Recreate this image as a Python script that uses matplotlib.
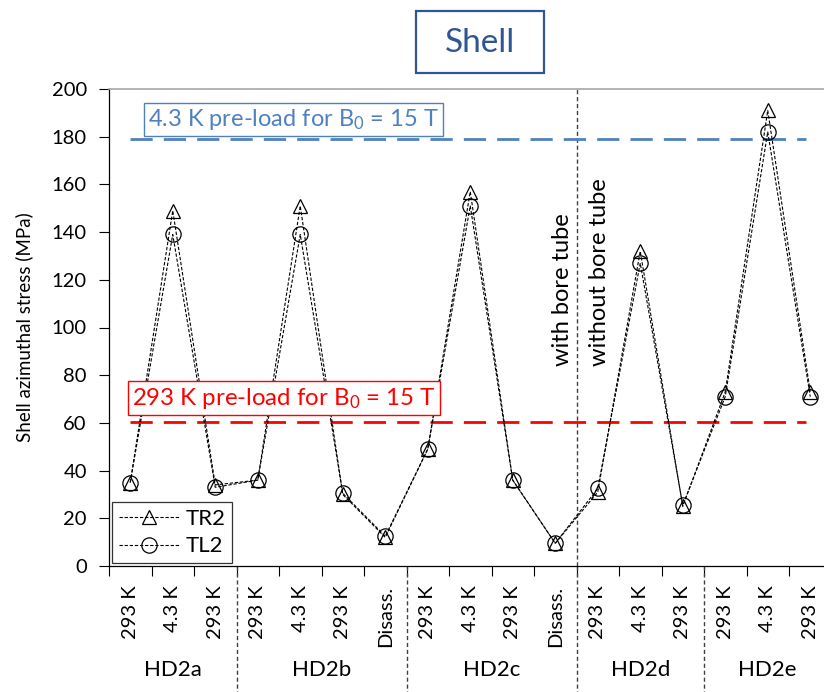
import matplotlib
matplotlib.use("Agg")
import matplotlib.pyplot as plt
from matplotlib.patches import Rectangle
from matplotlib.lines import Line2D

plt.rcParams['font.family'] = ['Lato', 'DejaVu Sans']
plt.rcParams['mathtext.fontset'] = 'custom'
plt.rcParams['mathtext.rm'] = 'Lato'
plt.rcParams['mathtext.it'] = 'Lato:italic'

# Measurement steps and the campaign each belongs to
step_labels = ["293 K", "4.3 K", "293 K",
               "293 K", "4.3 K", "293 K", "Disass.",
               "293 K", "4.3 K", "293 K", "Disass.",
               "293 K", "4.3 K", "293 K",
               "293 K", "4.3 K", "293 K"]
groups = ["HD2a", "HD2b", "HD2c", "HD2d", "HD2e"]
group_sizes = [3, 4, 4, 3, 3]

# Shell azimuthal stress (MPa) from the two gauges
tr2 = [35, 149, 34, 36, 151, 30, 12, 49, 157, 36, 9.5, 31, 132, 25, 73, 191, 73]
tl2 = [35, 139, 33, 36, 139, 30.5, 12.5, 49, 151, 36, 9.5, 32.5, 127, 25.5, 71, 182, 71]

# Pre-load targets for B0 = 15 T
preload_cold = 179
preload_warm = 60.5

W, H = 824, 692
fig = plt.figure(figsize=(W / 100, H / 100), dpi=100)
ax_left, ax_right, ax_top, ax_bottom = 109, 831.5, 89, 566
ax = fig.add_axes([ax_left / W, 1 - ax_bottom / H,
                   (ax_right - ax_left) / W, (ax_bottom - ax_top) / H])

n = len(step_labels)
x = list(range(n))

dash = (0, (3, 1.6))
ax.plot(x, tr2, color='black', lw=0.8, linestyle=dash, marker='^', ms=10,
        mfc='none', mec='black', mew=0.9, label='TR2', zorder=3)
ax.plot(x, tl2, color='black', lw=0.8, linestyle=dash, marker='o', ms=11,
        mfc='none', mec='black', mew=0.9, label='TL2', zorder=3)

# Pre-load reference lines
ax.hlines(preload_cold, 0, 15.9, colors='#4f81bd', linestyles=(0, (8, 4)), lw=2.0, zorder=2)
ax.hlines(preload_warm, 0, 15.9, colors='#ff0000', linestyles=(0, (8, 4)), lw=2.0, zorder=2)

ax.text(0.42, 187.3, r"4.3 K pre-load for $\mathregular{B_0}$ = 15 T", color='#4f81bd',
        fontsize=17, ha='left', va='center', zorder=4,
        bbox=dict(boxstyle='square,pad=0.18', fc='white', ec='#4f81bd', lw=1.0))
ax.text(0.04, 70.4, r"293 K pre-load for $\mathregular{B_0}$ = 15 T", color='#ff0000',
        fontsize=17.3, ha='left', va='center', zorder=4,
        bbox=dict(boxstyle='square,pad=0.18', fc='white', ec='#ff0000', lw=1.0))

# Bore tube boundary
ax.axvline(10.5, color='#404040', lw=1.0, linestyle=(0, (3, 2)), zorder=1)
ax.text(10.18, 84, "with bore tube", rotation=90, fontsize=17, ha='center', va='bottom')
ax.text(11.05, 84, "without bore tube", rotation=90, fontsize=17, ha='center', va='bottom')

ax.set_xlim(-0.5, n - 0.5)
ax.set_ylim(0, 200)
ax.set_yticks(range(0, 201, 20))
ax.tick_params(axis='y', direction='out', length=7, width=0.8, pad=9, labelsize=14.5)

# tick marks on category boundaries, labels on categories
ax.set_xticks([i - 0.5 for i in range(n + 1)])
ax.set_xticklabels([])
ax.tick_params(axis='x', which='major', direction='out', length=7, width=0.8)
ax.set_xticks(x, minor=True)
ax.set_xticklabels(step_labels, minor=True, rotation=90, fontsize=14.5)
ax.tick_params(axis='x', which='minor', length=0, pad=14)

ax.spines['right'].set_visible(False)
ax.spines['top'].set_color('#a6a6a6')
ax.spines['top'].set_linewidth(1.2)
for s in ('left', 'bottom'):
    ax.spines[s].set_linewidth(0.9)

ax.set_ylabel("Shell azimuthal stress (MPa)", fontsize=13.5, labelpad=13)

# Campaign separators and names below the axis
trans = ax.get_xaxis_transform()
start = 0
bottom_frac = -(H - ax_bottom) / (ax_bottom - ax_top)
for gi, (g, size) in enumerate(zip(groups, group_sizes)):
    center = start + (size - 1) / 2
    ax.text(center, -0.218, g, transform=trans, ha='center', va='center', fontsize=16)
    end = start + size
    if gi < len(groups) - 1:
        ax.add_line(Line2D([end - 0.5, end - 0.5], [0, bottom_frac], transform=trans,
                           color='#404040', lw=1.0, linestyle=(0, (3, 2)), clip_on=False))
    start = end

leg = ax.legend(loc='lower left', bbox_to_anchor=(3 / 722, 3 / 477), borderaxespad=0,
                fontsize=16, frameon=True, fancybox=False, edgecolor='black',
                borderpad=0.3, handlelength=2.7, handletextpad=0.3, labelspacing=0.35)
leg.get_frame().set_linewidth(0.9)

# Title in a framed box
fig.patches.append(Rectangle((416 / W, 1 - 73 / H), 128 / W, 62 / H, transform=fig.transFigure,
                             fill=False, ec='#2f5597', lw=1.6))
fig.text(480 / W, 1 - 43 / H, "Shell", ha='center', va='center', fontsize=24, color='#2f5597')

fig.savefig("out.png", dpi=100)
